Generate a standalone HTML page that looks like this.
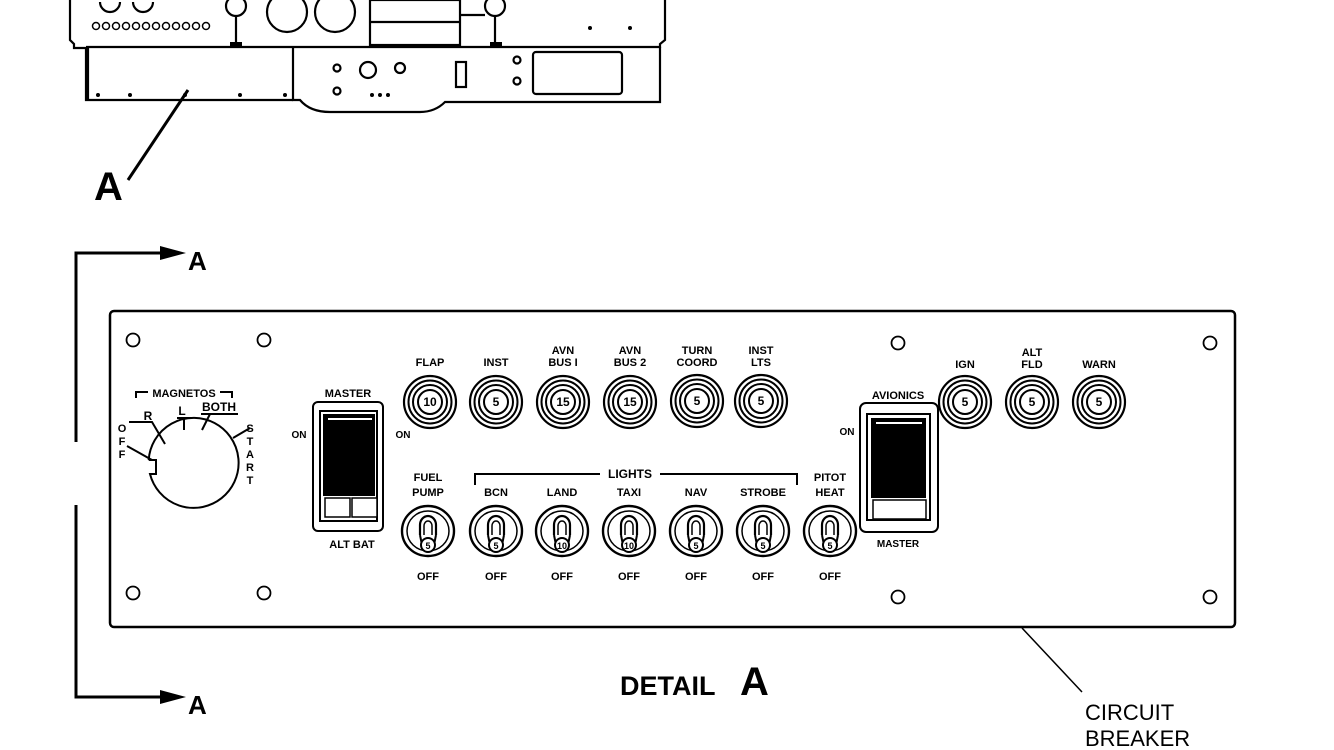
<!DOCTYPE html>
<html><head><style>
html,body{margin:0;padding:0;background:#fff;}
svg{display:block;}
text{font-family:"Liberation Sans",sans-serif;font-weight:bold;fill:#000;}
</style></head><body>
<svg width="1334" height="750" viewBox="0 0 1334 750" xmlns="http://www.w3.org/2000/svg">
<defs>
<g id="brk">
<circle r="26" fill="#fff" stroke="#000" stroke-width="2.2"/>
<circle r="21.5" fill="none" stroke="#000" stroke-width="2"/>
<circle r="17" fill="none" stroke="#000" stroke-width="2"/>
<circle r="12" fill="#fff" stroke="#000" stroke-width="2"/>
</g>
<g id="tog">
<ellipse rx="26" ry="25" fill="#fff" stroke="#000" stroke-width="2.4"/>
<ellipse rx="21" ry="20" fill="none" stroke="#000" stroke-width="1.5"/>
<path d="M-8,4 L-8,-6 A8,9 0 0 1 8,-6 L8,4" fill="none" stroke="#000" stroke-width="2.2"/>
<path d="M-4,4 L-4,-5 A4,5 0 0 1 4,-5 L4,4" fill="none" stroke="#000" stroke-width="1.5"/>
<path d="M-8,4 L-6,14 M8,4 L6,14" stroke="#000" stroke-width="2"/>
<circle cy="14" r="7" fill="#fff" stroke="#000" stroke-width="2"/>
</g>
</defs>
<g fill="none" stroke="#000" stroke-width="2.2">
<path d="M70,0 L70,40 L74,44 L74,48 L86,48 L86,100 L293,100"/>
<path d="M665,0 L665,40 L660,44 L660,48"/>
<path d="M86,47 L660,47 M88,47 L88,100"/>
<path d="M293,47 L293,100 L300,100 Q310,112 330,112 L420,112 Q435,112 445,102 L660,102 L660,47"/>
<rect x="533" y="52" width="89" height="42" rx="3"/>
<rect x="370" y="0" width="90" height="45"/>
<path d="M370,22 L460,22"/>
<circle cx="287" cy="12" r="20"/><circle cx="335" cy="12" r="20"/>
<circle cx="236" cy="6" r="10"/><circle cx="495" cy="6" r="10"/>
<path d="M236,16 L236,47 M495,16 L495,47 M460,15 L485,15"/>
<circle cx="368" cy="70" r="8"/><circle cx="400" cy="68" r="5"/><circle cx="337" cy="68" r="3.5"/><circle cx="337" cy="91" r="3.5"/>
<rect x="456" y="62" width="10" height="25"/>
<circle cx="517" cy="60" r="3.5"/><circle cx="517" cy="81" r="3.5"/>
<path d="M100,2 A10,10 0 0 0 120,2 M133,2 A10,10 0 0 0 153,2"/>
</g>
<g fill="none" stroke="#000" stroke-width="1.5">
<circle cx="96" cy="26" r="3.5"/><circle cx="106" cy="26" r="3.5"/><circle cx="116" cy="26" r="3.5"/><circle cx="126" cy="26" r="3.5"/><circle cx="136" cy="26" r="3.5"/><circle cx="146" cy="26" r="3.5"/><circle cx="156" cy="26" r="3.5"/><circle cx="166" cy="26" r="3.5"/><circle cx="176" cy="26" r="3.5"/><circle cx="186" cy="26" r="3.5"/><circle cx="196" cy="26" r="3.5"/><circle cx="206" cy="26" r="3.5"/>
</g>
<g fill="#000">
<circle cx="98" cy="95" r="2"/><circle cx="130" cy="95" r="2"/><circle cx="185" cy="95" r="2"/><circle cx="240" cy="95" r="2"/><circle cx="285" cy="95" r="2"/>
<circle cx="372" cy="95" r="2"/><circle cx="380" cy="95" r="2"/><circle cx="388" cy="95" r="2"/>
<circle cx="590" cy="28" r="2"/><circle cx="630" cy="28" r="2"/>
<rect x="230" y="42" width="12" height="6"/><rect x="490" y="42" width="12" height="6"/>
</g>
<line x1="128" y1="180" x2="188" y2="90" stroke="#000" stroke-width="3"/>
<text x="94" y="200" font-size="40">A</text>

<g stroke="#000" stroke-width="3" fill="none">
<path d="M76,442 L76,253 L165,253"/>
<path d="M76,505 L76,697 L165,697"/>
</g>
<path d="M160,246 L186,253 L160,260 Z M160,690 L186,697 L160,704 Z" fill="#000"/>
<text x="188" y="270" font-size="26">A</text>
<text x="188" y="714" font-size="26">A</text>

<rect x="110" y="311" width="1125" height="316" rx="4" fill="none" stroke="#000" stroke-width="2.5"/>
<g fill="none" stroke="#000" stroke-width="1.8">
<circle cx="133" cy="340" r="6.5"/><circle cx="264" cy="340" r="6.5"/><circle cx="898" cy="343" r="6.5"/><circle cx="1210" cy="343" r="6.5"/>
<circle cx="133" cy="593" r="6.5"/><circle cx="264" cy="593" r="6.5"/><circle cx="898" cy="597" r="6.5"/><circle cx="1210" cy="597" r="6.5"/>
</g>

<g fill="none" stroke="#000" stroke-width="2">
<path d="M148.7,460 L156,460 L156,474 L150,474 A45,45 0 1 0 148.7,460"/>
<path d="M136,398 L136,392 L148,392 M220,392 L232,392 L232,398"/>
<path d="M129,422 L152,422 L165,444 M177,418 L192,418 M184,418 L184,430 M201,414 L238,414 M210,414 L202,430 M127,446 L152,460 M233,438 L250,428"/>
</g>
<text x="184" y="397" font-size="11" text-anchor="middle">MAGNETOS</text>
<text x="148" y="420" font-size="12" text-anchor="middle">R</text>
<text x="182" y="415" font-size="12" text-anchor="middle">L</text>
<text x="219" y="411" font-size="12" text-anchor="middle">BOTH</text>
<g font-size="11" text-anchor="middle">
<text x="122" y="432">O</text><text x="122" y="445">F</text><text x="122" y="458">F</text>
<text x="250" y="432">S</text><text x="250" y="445">T</text><text x="250" y="458">A</text><text x="250" y="471">R</text><text x="250" y="484">T</text>
</g>

<rect x="313" y="402" width="70" height="129" rx="5" fill="#fff" stroke="#000" stroke-width="2"/>
<rect x="320" y="411" width="57" height="110" fill="#fff" stroke="#000" stroke-width="2"/>
<rect x="323" y="414" width="52" height="82" fill="#000"/>
<rect x="325" y="498" width="25" height="19" fill="#fff" stroke="#000" stroke-width="1.5"/>
<rect x="352" y="498" width="25" height="19" fill="#fff" stroke="#000" stroke-width="1.5"/>
<line x1="328" y1="419" x2="372" y2="419" stroke="#fff" stroke-width="2"/>
<text x="348" y="397" font-size="11" text-anchor="middle">MASTER</text>
<text x="299" y="438" font-size="10" text-anchor="middle">ON</text>
<text x="403" y="438" font-size="10" text-anchor="middle">ON</text>
<text x="352" y="548" font-size="11" text-anchor="middle">ALT BAT</text>

<rect x="860" y="403" width="78" height="129" rx="6" fill="#fff" stroke="#000" stroke-width="2"/>
<rect x="867" y="414" width="63" height="106" fill="#fff" stroke="#000" stroke-width="2"/>
<rect x="871" y="418" width="55" height="80" fill="#000"/>
<rect x="873" y="500" width="53" height="19" fill="#fff" stroke="#000" stroke-width="1.5"/>
<line x1="876" y1="423" x2="922" y2="423" stroke="#fff" stroke-width="2"/>
<text x="898" y="399" font-size="11" text-anchor="middle">AVIONICS</text>
<text x="847" y="435" font-size="10" text-anchor="middle">ON</text>
<text x="898" y="547" font-size="10" text-anchor="middle">MASTER</text>

<g font-size="12" text-anchor="middle">
<use href="#brk" x="430" y="402"/><text x="430" y="406">10</text>
<use href="#brk" x="496" y="402"/><text x="496" y="406">5</text>
<use href="#brk" x="563" y="402"/><text x="563" y="406">15</text>
<use href="#brk" x="630" y="402"/><text x="630" y="406">15</text>
<use href="#brk" x="697" y="401"/><text x="697" y="405">5</text>
<use href="#brk" x="761" y="401"/><text x="761" y="405">5</text>
<use href="#brk" x="965" y="402"/><text x="965" y="406">5</text>
<use href="#brk" x="1032" y="402"/><text x="1032" y="406">5</text>
<use href="#brk" x="1099" y="402"/><text x="1099" y="406">5</text>
</g>
<g font-size="11" text-anchor="middle">
<text x="430" y="366">FLAP</text>
<text x="496" y="366">INST</text>
<text x="563" y="354">AVN</text><text x="563" y="366">BUS I</text>
<text x="630" y="354">AVN</text><text x="630" y="366">BUS 2</text>
<text x="697" y="354">TURN</text><text x="697" y="366">COORD</text>
<text x="761" y="354">INST</text><text x="761" y="366">LTS</text>
<text x="965" y="368">IGN</text>
<text x="1032" y="356">ALT</text><text x="1032" y="368">FLD</text>
<text x="1099" y="368">WARN</text>
</g>

<path d="M475,485 L475,474 L797,474 L797,485" fill="none" stroke="#000" stroke-width="2"/>
<rect x="600" y="466" width="60" height="14" fill="#fff"/>
<text x="630" y="478" font-size="12" text-anchor="middle">LIGHTS</text>

<g font-size="9" text-anchor="middle">
<use href="#tog" x="428" y="531"/><text x="428" y="549">5</text>
<use href="#tog" x="496" y="531"/><text x="496" y="549">5</text>
<use href="#tog" x="562" y="531"/><text x="562" y="549">10</text>
<use href="#tog" x="629" y="531"/><text x="629" y="549">10</text>
<use href="#tog" x="696" y="531"/><text x="696" y="549">5</text>
<use href="#tog" x="763" y="531"/><text x="763" y="549">5</text>
<use href="#tog" x="830" y="531"/><text x="830" y="549">5</text>
</g>
<g font-size="11" text-anchor="middle">
<text x="428" y="481">FUEL</text><text x="428" y="496">PUMP</text>
<text x="496" y="496">BCN</text>
<text x="562" y="496">LAND</text>
<text x="629" y="496">TAXI</text>
<text x="696" y="496">NAV</text>
<text x="763" y="496">STROBE</text>
<text x="830" y="481">PITOT</text><text x="830" y="496">HEAT</text>
<text x="428" y="580">OFF</text><text x="496" y="580">OFF</text><text x="562" y="580">OFF</text><text x="629" y="580">OFF</text><text x="696" y="580">OFF</text><text x="763" y="580">OFF</text><text x="830" y="580">OFF</text>
</g>

<text x="620" y="695" font-size="27">DETAIL</text>
<text x="740" y="695" font-size="40">A</text>
<line x1="1022" y1="628" x2="1082" y2="692" stroke="#000" stroke-width="1.5"/>
<text x="1085" y="720" font-size="22" style="font-weight:normal">CIRCUIT</text>
<text x="1085" y="746" font-size="22" style="font-weight:normal">BREAKER</text>
</svg>
</body></html>
